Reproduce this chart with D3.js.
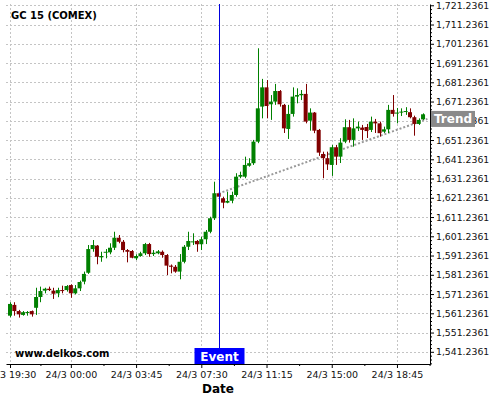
<!DOCTYPE html>
<html>
<head>
<meta charset="utf-8">
<script src="https://cdn.jsdelivr.net/npm/d3@7"></script>
<style>
  body { margin: 0; background: #fff; }
  svg { display: block; font-family: "DejaVu Sans", sans-serif; }
</style>
</head>
<body>
<svg id="chart" width="500" height="400"></svg>
<script>
// 15 minute candles, one per slot (slot 0 = 23/3 19:30)
var opens = [1560.0,1565.6,1562.4,1560.4,1561.4,1562.4,1564.1,1569.7,1573.0,1574.0,
  1573.0,1571.6,1573.3,1573.3,1575.9,1571.6,1574.2,1577.7,1582.3,1594.6,
  1596.4,1590.3,1592.9,1592.9,1595.3,1600.5,1598.4,1594.1,1593.6,1589.8,
  1591.0,1592.4,1597.2,1592.0,1592.4,1593.2,1591.5,1586.0,1585.4,1582.9,
  1588.0,1595.8,1598.4,1598.8,1597.1,1599.7,1603.6,1610.6,1623.6,1621.0,
  1618.7,1619.7,1622.7,1632.2,1632.2,1637.9,1639.2,1650.4,1668.6,1678.6,
  1669.8,1671.2,1676.7,1669.5,1657.0,1664.8,1673.8,1674.5,1675.2,1661.3,
  1665.5,1656.5,1644.0,1641.8,1638.3,1647.5,1642.6,1650.4,1657.9,1651.3,
  1657.3,1657.7,1658.0,1656.5,1660.8,1659.9,1655.6,1656.8,1666.9,1665.1,
  1665.5,1666.0,1665.7,1663.1,1659.6,1662.0];
var closes = [1566.1,1562.4,1560.7,1561.8,1561.9,1560.7,1569.7,1572.8,1574.0,1573.3,
  1571.4,1573.3,1573.0,1575.4,1571.6,1574.2,1577.5,1581.7,1594.6,1596.7,
  1590.6,1591.0,1593.2,1595.3,1600.5,1598.4,1594.1,1593.2,1590.1,1591.0,
  1592.4,1597.2,1592.0,1592.7,1593.4,1591.5,1586.0,1585.4,1582.9,1588.0,
  1595.8,1598.8,1598.6,1597.1,1599.7,1603.6,1610.6,1623.6,1621.8,1618.7,
  1619.6,1622.7,1632.2,1633.1,1638.3,1639.2,1650.4,1667.7,1678.6,1668.9,
  1671.2,1676.7,1669.8,1657.3,1664.8,1673.8,1674.6,1675.2,1660.8,1665.5,
  1656.1,1644.7,1641.8,1638.6,1647.5,1642.6,1649.9,1657.9,1651.3,1657.3,
  1658.2,1656.5,1655.9,1660.8,1659.9,1654.8,1656.8,1666.9,1664.8,1665.5,
  1666.0,1666.3,1663.1,1659.6,1661.7,1664.6];
var highs = [1567.0,1567.0,1563.0,1562.4,1562.4,1562.7,1574.5,1575.1,1574.5,1575.1,
  1574.5,1574.5,1575.6,1575.9,1576.3,1575.9,1578.2,1582.9,1596.7,1599.3,
  1596.7,1593.2,1594.6,1597.6,1603.6,1601.9,1599.3,1594.6,1594.1,1591.9,
  1593.2,1597.8,1597.8,1594.1,1594.1,1593.9,1592.0,1586.6,1586.3,1592.0,
  1596.7,1603.6,1602.8,1599.3,1601.0,1604.5,1611.4,1629.6,1624.8,1621.8,
  1624.4,1624.4,1634.0,1634.8,1642.6,1641.8,1651.3,1698.9,1683.0,1682.4,
  1674.6,1680.4,1677.2,1670.0,1669.5,1678.6,1678.1,1677.2,1680.4,1667.7,
  1665.8,1657.0,1645.2,1645.2,1648.7,1648.7,1652.2,1662.0,1661.7,1662.5,
  1660.8,1659.1,1659.6,1663.4,1662.2,1660.8,1658.2,1669.5,1674.6,1667.9,
  1667.7,1668.3,1667.7,1663.9,1662.5,1665.1];
var lows = [1559.2,1560.0,1559.0,1560.0,1560.0,1559.5,1560.4,1567.0,1571.6,1572.8,
  1568.7,1569.6,1571.6,1572.5,1569.3,1571.1,1572.8,1576.3,1581.7,1593.2,
  1586.7,1588.0,1589.8,1591.9,1594.1,1597.6,1592.9,1587.7,1589.8,1588.9,
  1590.6,1591.5,1590.6,1591.0,1591.9,1590.1,1581.1,1582.0,1582.3,1578.9,
  1587.2,1594.1,1596.7,1593.2,1594.1,1597.2,1602.8,1609.7,1620.1,1615.8,
  1618.4,1618.4,1621.8,1631.4,1631.4,1637.4,1638.3,1649.6,1662.5,1662.5,
  1661.7,1669.5,1668.6,1654.9,1651.8,1663.4,1670.3,1672.0,1659.9,1656.1,
  1654.8,1643.0,1631.4,1635.7,1632.6,1638.3,1639.3,1649.6,1649.9,1647.8,
  1655.9,1651.3,1652.3,1655.4,1654.9,1653.0,1654.9,1654.8,1663.4,1659.9,
  1663.7,1664.3,1662.5,1653.5,1659.1,1661.7];

var tickSlots = [0, 14, 29, 44, 59, 74, 89];
var tickLabels = ["23/3 19:30", "24/3 00:00", "24/3 03:45", "24/3 07:30",
  "24/3 11:15", "24/3 15:00", "24/3 18:45"];
var minorSlots = [7, 21.5, 36.5, 51.5, 66.5, 81.5, 96.5];
var yTicks = d3.range(0, 19).map(function(i) { return 1541.2361 + 10 * i; });

var eventSlot = 48;
var trendSlots = [48, 96];
var trendValues = [1623.5, 1662.2];

var plotLeft = 6, plotRight = 430, plotTop = 4, plotBottom = 364;

var svg = d3.select("#chart");

var x = d3.scaleLinear().domain([-0.92, 96.6]).range([plotLeft, plotRight]);
var y = d3.scaleLinear().domain([1534.9, 1721.9]).range([plotBottom, plotTop]);
var step = x(1) - x(0);

// grid
var grid = svg.append("g").attr("stroke", "#c4c4c4").attr("stroke-dasharray", "2,2");
grid.selectAll("line.h")
  .data(yTicks)
  .enter()
  .append("line")
  .attr("x1", plotLeft).attr("x2", plotRight)
  .attr("y1", function(d) { return Math.round(y(d)) + 0.5; })
  .attr("y2", function(d) { return Math.round(y(d)) + 0.5; });
grid.selectAll("line.v")
  .data(tickSlots)
  .enter()
  .append("line")
  .attr("y1", plotTop).attr("y2", plotBottom)
  .attr("x1", function(d) { return Math.round(x(d)) + 0.5; })
  .attr("x2", function(d) { return Math.round(x(d)) + 0.5; });

// trend line
svg.append("line")
  .attr("x1", x(trendSlots[0])).attr("y1", y(trendValues[0]))
  .attr("x2", x(trendSlots[1])).attr("y2", y(trendValues[1]))
  .attr("stroke", "#999")
  .attr("stroke-width", 2)
  .attr("stroke-dasharray", "2,2");

// candles
var candles = d3.range(opens.length);
var upColor = "#008000", downColor = "#800000";
var cg = svg.append("g");
cg.selectAll("line.wick")
  .data(candles)
  .enter()
  .append("line")
  .attr("x1", function(i) { return Math.round(x(i)) + 0.5; })
  .attr("x2", function(i) { return Math.round(x(i)) + 0.5; })
  .attr("y1", function(i) { return y(highs[i]); })
  .attr("y2", function(i) { return y(lows[i]); })
  .attr("stroke", function(i) { return closes[i] >= opens[i] ? upColor : downColor; });
cg.selectAll("rect.body")
  .data(candles)
  .enter()
  .append("rect")
  .attr("x", function(i) { return x(i) - step * 0.46; })
  .attr("width", step * 0.92)
  .attr("y", function(i) { return y(Math.max(opens[i], closes[i])); })
  .attr("height", function(i) {
    return Math.max(1, Math.abs(y(opens[i]) - y(closes[i])));
  })
  .attr("fill", function(i) { return closes[i] >= opens[i] ? upColor : downColor; });

// axes
var yAxis = svg.append("g")
  .attr("transform", "translate(" + plotRight + ",0)")
  .call(d3.axisRight(y).tickValues(yTicks).tickFormat(d3.format(",.4f"))
    .tickSize(4).tickSizeOuter(0).tickPadding(2));
var yMinor = [];
for (var k = -3; k <= 90; k++) {
  var v = 1541.2361 + 2 * k;
  if (k % 5 !== 0 && v > 1534.9 && v < 1721.9) yMinor.push(v);
}
svg.append("g")
  .attr("transform", "translate(" + plotRight + ",0)")
  .call(d3.axisRight(y).tickValues(yMinor).tickFormat("").tickSize(2).tickSizeOuter(0))
  .select(".domain").remove();

var xAxis = svg.append("g")
  .attr("transform", "translate(0," + plotBottom + ")")
  .call(d3.axisBottom(x).tickValues(tickSlots)
    .tickFormat(function(d, i) { return tickLabels[i]; })
    .tickSize(4).tickSizeOuter(0).tickPadding(3));
svg.append("g")
  .attr("transform", "translate(0," + plotBottom + ")")
  .call(d3.axisBottom(x).tickValues(minorSlots).tickFormat("").tickSize(2).tickSizeOuter(0))
  .select(".domain").remove();

yAxis.selectAll("text").attr("font-size", 9.3).attr("fill", "#111")
  .attr("font-family", "DejaVu Sans");
xAxis.selectAll("text").attr("font-size", 9.5).attr("fill", "#111")
  .attr("font-family", "DejaVu Sans");
svg.selectAll(".domain").attr("stroke", "#000");

// event marker
var ex = Math.round(x(eventSlot)) + 0.5;
svg.append("line")
  .attr("x1", ex).attr("x2", ex)
  .attr("y1", plotTop).attr("y2", plotBottom)
  .attr("stroke", "#0000dd");
svg.append("rect")
  .attr("x", ex - 25).attr("y", plotBottom - 16)
  .attr("width", 50).attr("height", 16)
  .attr("fill", "#0000ff");
svg.append("text")
  .attr("x", ex).attr("y", plotBottom - 3.5)
  .attr("text-anchor", "middle")
  .attr("font-size", 12).attr("font-weight", "bold")
  .attr("fill", "#fff")
  .text("Event");

// trend label
var ty = y(trendValues[1]);
svg.append("rect")
  .attr("x", plotRight + 1).attr("y", ty - 8)
  .attr("width", 44).attr("height", 16)
  .attr("fill", "#8a8a8a");
svg.append("text")
  .attr("x", plotRight + 23).attr("y", ty + 4.5)
  .attr("text-anchor", "middle")
  .attr("font-size", 12).attr("font-weight", "bold")
  .attr("fill", "#fff")
  .text("Trend");

// texts
svg.append("text")
  .attr("x", 11).attr("y", 19.3)
  .attr("font-size", 10).attr("font-weight", "bold")
  .text("GC 15 (COMEX)");
svg.append("text")
  .attr("x", 15).attr("y", 357)
  .attr("font-size", 10).attr("font-weight", "bold")
  .text("www.delkos.com");
svg.append("text")
  .attr("x", (plotLeft + plotRight) / 2).attr("y", 393)
  .attr("text-anchor", "middle")
  .attr("font-size", 12).attr("font-weight", "bold")
  .text("Date");
</script>
</body>
</html>
